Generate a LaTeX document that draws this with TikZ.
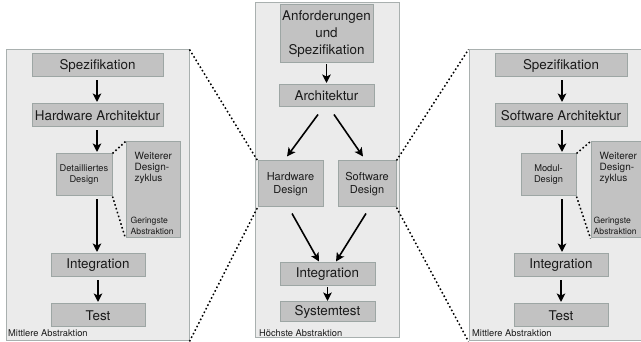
\documentclass[tikz,border=0pt]{standalone}
\usepackage{fontspec}
\setmainfont{TeX Gyre Heros}
\usetikzlibrary{arrows.meta,calc}

\definecolor{panelfill}{HTML}{EBEBEB}
\definecolor{paneldraw}{HTML}{A9B0AF}
\definecolor{boxfill}{HTML}{C2C2C2}
\definecolor{boxdraw}{HTML}{9DA6A4}
\definecolor{ink}{HTML}{1A1A1A}

\tikzset{
  panel/.style={draw=paneldraw, fill=panelfill, line width=1pt, inner sep=0pt},
  stagebox/.style={draw=boxdraw, fill=boxfill, line width=1pt, inner sep=0pt,
    text=ink, align=center, font=\fontsize{13.4}{16.8}\selectfont},
  smallbox/.style={stagebox, font=\fontsize{11}{13}\selectfont},
  tinybox/.style={stagebox, font=\fontsize{9.3}{11}\selectfont},
  cyclebox/.style={draw=boxdraw, fill=boxfill, line width=1pt, inner sep=0pt},
  cycletext/.style={inner sep=0pt, align=left, text=ink, font=\fontsize{10}{11}\selectfont},
  leveltext/.style={inner sep=0pt, align=left, text=ink, font=\fontsize{8.6}{10.5}\selectfont},
  paneltext/.style={inner sep=0pt, anchor=base west, text=ink, font=\fontsize{9.3}{10}\selectfont},
  arr/.style={draw=black, line width=1.6pt, -{Stealth[length=8.5pt,width=8.5pt,inset=2pt]},
    shorten <=3pt, shorten >=1.5pt},
  zoomline/.style={draw=black, line width=1.5pt, dash pattern=on 1.6pt off 2.4pt}
}

\begin{document}
\begin{tikzpicture}[x=1pt, y=-1pt]
\clip (0,0) rectangle (641,342);

% ---------- left panel: hardware ----------
\node[panel, minimum width=183pt, minimum height=291pt] (lpanel) at (97.5,195.5) {};
\node[stagebox, minimum width=131pt, minimum height=23pt] (lspec) at (97.5,65.5) {Spezifikation};
\node[stagebox, minimum width=131pt, minimum height=23pt] (larch) at (97.5,115.5) {Hardware Architektur};
\node[tinybox, minimum width=56pt, minimum height=42pt] (ldet) at (84,175) {Detailliertes\\Design};
\node[cyclebox, minimum width=54pt, minimum height=96pt] (lweit) at (153,190) {};
\node[cycletext, anchor=north west] (lweitA) at ([shift={(9pt,-11pt)}]lweit.north west) {Weiterer\\Design-\\zyklus};
\node[leveltext, anchor=south west] (lweitB) at ([shift={(5pt,4pt)}]lweit.south west) {Geringste\\Abstraktion};
\node[stagebox, minimum width=94pt, minimum height=23pt] (lint) at (98,265.5) {Integration};
\node[stagebox, minimum width=94pt, minimum height=23pt] (ltest) at (98,315.5) {Test};
\node[paneltext] (llabel) at (8,337) {Mittlere Abstraktion};

\draw[arr] (lspec.south -| 97,0) -- (larch.north -| 97,0);
\draw[arr] (larch.south -| 97,0) -- (ldet.north -| 97,0);
\draw[arr] (ldet.south -| 97,0) -- (lint.north -| 97,0);
\draw[arr] (lint.south -| 98,0) -- (ltest.north -| 98,0);
\draw[zoomline] (ldet.north east) -- (lweit.north west);
\draw[zoomline] (ldet.south east) -- (lweit.south west);

% ---------- middle panel: system ----------
\node[panel, minimum width=144pt, minimum height=335pt] (mpanel) at (327,170.5) {};
\node[stagebox, minimum width=93pt, minimum height=58pt] (manf) at (326.5,34) {Anforderungen\\und\\Spezifikation};
\node[stagebox, minimum width=95pt, minimum height=22pt] (march) at (326.5,96) {Architektur};
\node[smallbox, minimum width=65pt, minimum height=46pt] (mhw) at (290.5,184) {Hardware\\Design};
\node[smallbox, minimum width=58pt, minimum height=46pt] (msw) at (367,184) {Software\\Design};
\node[stagebox, minimum width=95pt, minimum height=23pt] (mint) at (327.5,274.5) {Integration};
\node[stagebox, minimum width=95pt, minimum height=20pt] (msys) at (327.5,312) {Systemtest};
\node[paneltext] (mlabel) at (259,336.5) {Höchste Abstraktion};

\draw[arr, shorten <=1pt] (manf.south) -- (march.north);
\draw[arr, shorten <=0pt, shorten >=0pt] ([shift={(-8.5pt,-7pt)}]march.south) -- ([shift={(-3.5pt,4pt)}]mhw.north);
\draw[arr, shorten <=0pt, shorten >=0pt] ([shift={(7.5pt,-7pt)}]march.south) -- ([shift={(-4pt,4pt)}]msw.north);
\draw[arr, shorten <=0pt, shorten >=0pt] ([shift={(1.5pt,-6pt)}]mhw.south) -- ([shift={(-8.5pt,1pt)}]mint.north);
\draw[arr, shorten <=0pt, shorten >=0pt] ([shift={(-1pt,-6pt)}]msw.south) -- ([shift={(8.5pt,1pt)}]mint.north);
\draw[arr, shorten <=1pt, shorten >=0.5pt] (mint.south) -- (msys.north);

% ---------- right panel: software ----------
\node[panel, minimum width=191pt, minimum height=291pt] (rpanel) at (564.5,195.5) {};
\node[stagebox, minimum width=132pt, minimum height=23pt] (rspec) at (561,65.5) {Spezifikation};
\node[stagebox, minimum width=132pt, minimum height=23pt] (rarch) at (561,115.5) {Software Architektur};
\node[tinybox, minimum width=55pt, minimum height=42pt] (rmod) at (548.5,175) {Modul-\\Design};
\node[cyclebox, minimum width=69pt, minimum height=96pt] (rweit) at (625.5,190) {};
\node[cycletext, anchor=north west] (rweitA) at ([shift={(9pt,-11pt)}]rweit.north west) {Weiterer\\Design-\\zyklus};
\node[leveltext, anchor=south west] (rweitB) at ([shift={(3pt,4pt)}]rweit.south west) {Geringste\\Abstraktion};
\node[stagebox, minimum width=94pt, minimum height=23pt] (rint) at (561,265.5) {Integration};
\node[stagebox, minimum width=94pt, minimum height=23pt] (rtest) at (561,315.5) {Test};
\node[paneltext] (rlabel) at (472,337) {Mittlere Abstraktion};

\draw[arr] (rspec.south -| 562,0) -- (rarch.north -| 562,0);
\draw[arr] (rarch.south -| 562,0) -- (rmod.north -| 562,0);
\draw[arr] (rmod.south -| 562,0) -- (rint.north -| 562,0);
\draw[arr] (rint.south -| 561,0) -- (rtest.north -| 561,0);
\draw[zoomline] (rmod.north east) -- (rweit.north west);
\draw[zoomline] (rmod.south east) -- (rweit.south west);

% ---------- zoom lines between the levels ----------
\draw[zoomline] (lpanel.north east) -- (mhw.north west);
\draw[zoomline] (lpanel.south east) -- (mhw.south west);
\draw[zoomline] (msw.north east) -- (rpanel.north west);
\draw[zoomline] (msw.south east) -- (rpanel.south west);
\end{tikzpicture}
\end{document}
